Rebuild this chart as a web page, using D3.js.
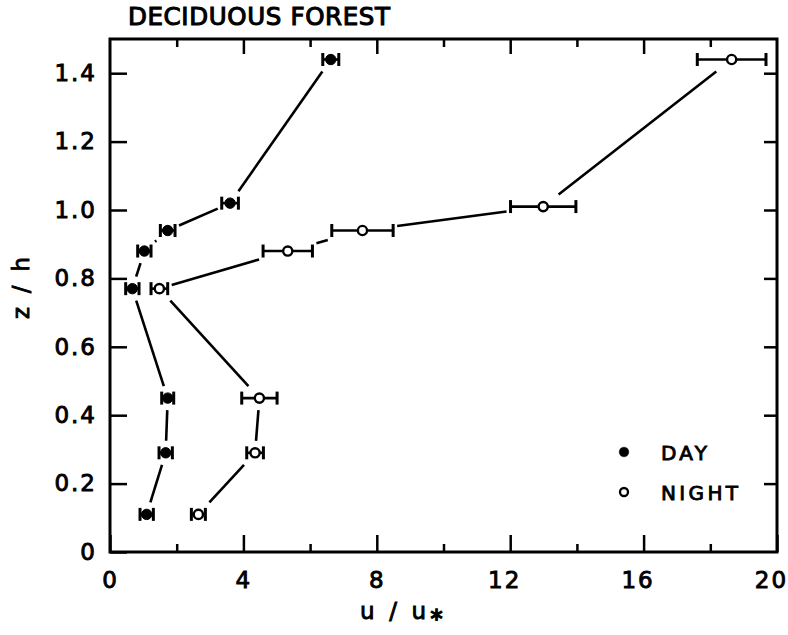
<!DOCTYPE html>
<html>
<head>
<meta charset="utf-8">
<script src="https://cdn.jsdelivr.net/npm/d3@7"></script>
<style>
  html, body { margin: 0; padding: 0; background: #fff; }
  svg text { font-family: "DejaVu Sans", "Liberation Sans", sans-serif; fill: #000; }
</style>
</head>
<body>
<svg id="chart" width="788" height="635"></svg>
<script>
// Normalised wind speed profiles in a deciduous forest canopy
const zDay     = [0.11, 0.29, 0.45, 0.77, 0.88, 0.94, 1.02, 1.44];
const uDay     = [1.10, 1.67, 1.73, 0.67, 1.03, 1.73, 3.60, 6.62];
const errDay   = [0.20, 0.20, 0.18, 0.20, 0.20, 0.22, 0.25, 0.24];

const zNight   = [0.11, 0.29, 0.45, 0.77, 0.88, 0.94, 1.01, 1.44];
const uNight   = [2.65, 4.35, 4.48, 1.48, 5.33, 7.57, 12.99, 18.64];
const errNight = [0.21, 0.25, 0.53, 0.25, 0.74, 0.92, 0.98, 1.03];

const xMajorTicks = [0, 4, 8, 12, 16, 20];
const xMinorTicks = [2, 6, 10, 14, 18];
const yTicks      = [0, 0.2, 0.4, 0.6, 0.8, 1.0, 1.2, 1.4];
const yTickLabels = ["0", "0.2", "0.4", "0.6", "0.8", "1.0", "1.2", "1.4"];

const svg = d3.select("#chart");
const plotLeft = 110, plotRight = 777, plotTop = 39, plotBottom = 552;

const x = d3.scaleLinear().domain([0, 20]).range([plotLeft, plotRight]);
const y = d3.scaleLinear().domain([0, 1.5]).range([plotBottom, plotTop]);

const ink = "#000";

// Axes: ticks point inward, labels outside
function styleAxis(g) {
  g.select(".domain").remove();
  g.selectAll(".tick line").attr("stroke", ink).attr("stroke-width", 2.5);
  g.selectAll(".tick text")
    .attr("font-size", 23)
    .attr("stroke", ink).attr("stroke-width", 0.9);
}

svg.append("g").attr("transform", `translate(0,${plotBottom})`)
  .call(d3.axisBottom(x).tickValues(xMajorTicks).tickSize(-17).tickPadding(20)
        .tickFormat(d3.format("d")))
  .call(styleAxis)
  .call(g => g.selectAll(".tick text")
    .attr("letter-spacing", 2)
    .attr("dx", d => d >= 10 ? -6 : 0));
svg.append("g").attr("transform", `translate(0,${plotBottom})`)
  .call(d3.axisBottom(x).tickValues(xMinorTicks).tickSize(-8).tickFormat(""))
  .call(styleAxis);
svg.append("g").attr("transform", `translate(0,${plotTop})`)
  .call(d3.axisTop(x).tickValues(xMajorTicks.slice(1, -1)).tickSize(-15).tickFormat(""))
  .call(styleAxis);
svg.append("g").attr("transform", `translate(0,${plotTop})`)
  .call(d3.axisTop(x).tickValues(xMinorTicks).tickSize(-8).tickFormat(""))
  .call(styleAxis);
svg.append("g").attr("transform", `translate(${plotLeft},0)`)
  .call(d3.axisLeft(y).tickValues(yTicks).tickSize(-17).tickPadding(13)
        .tickFormat((d, i) => yTickLabels[i]))
  .call(styleAxis)
  .call(g => g.selectAll(".tick text").attr("letter-spacing", 2));
svg.append("g").attr("transform", `translate(${plotRight},0)`)
  .call(d3.axisRight(y).tickValues(yTicks.slice(1)).tickSize(-13).tickFormat(""))
  .call(styleAxis);

// Plot frame
svg.append("rect")
  .attr("x", plotLeft).attr("y", plotTop)
  .attr("width", plotRight - plotLeft).attr("height", plotBottom - plotTop)
  .attr("fill", "none").attr("stroke", ink).attr("stroke-width", 3);

// Titles
svg.append("text").attr("x", 128).attr("y", 25)
  .attr("font-size", 24.5).attr("textLength", 262).attr("lengthAdjust", "spacing")
  .attr("stroke", ink).attr("stroke-width", 1.1)
  .text("DECIDUOUS FOREST");

const xTitle = svg.append("text").attr("x", 360).attr("y", 619)
  .attr("font-size", 23).attr("stroke", ink).attr("stroke-width", 0.9);
xTitle.append("tspan").attr("textLength", 66).attr("lengthAdjust", "spacing").text("u / u");
xTitle.append("tspan").attr("dx", 1).attr("dy", 8).attr("font-size", 24)
  .attr("stroke-width", 1.4).text("*");

svg.append("text")
  .attr("transform", "translate(29,288) rotate(-90)")
  .attr("text-anchor", "middle").attr("font-size", 23)
  .attr("textLength", 62).attr("lengthAdjust", "spacing")
  .attr("stroke", ink).attr("stroke-width", 0.9)
  .text("z / h");

// Connecting segments stop short of each marker and its error bar
function drawProfile(us, zs, errs, filled) {
  const pts = us.map((u, i) => ({ px: x(u), py: y(zs[i]), e: x(errs[i]) - x(0) }));
  const segs = [];
  for (let i = 0; i < pts.length - 1; i++) {
    const a = pts[i], b = pts[i + 1];
    const dx = b.px - a.px, dy = b.py - a.py;
    const exit = p => {
      const tx = Math.abs(dx) > 1e-6 ? (p.e + 4) / Math.abs(dx) : Infinity;
      const ty = Math.abs(dy) > 1e-6 ? 12 / Math.abs(dy) : Infinity;
      return Math.min(tx, ty);
    };
    const t0 = exit(a), t1 = 1 - exit(b);
    if (t1 > t0) segs.push([a.px + dx * t0, a.py + dy * t0, a.px + dx * t1, a.py + dy * t1]);
  }
  const g = svg.append("g");
  g.selectAll("line.seg").data(segs).join("line").attr("class", "seg")
    .attr("x1", d => d[0]).attr("y1", d => d[1]).attr("x2", d => d[2]).attr("y2", d => d[3])
    .attr("stroke", ink).attr("stroke-width", 2.6);

  const eb = g.selectAll("g.eb").data(pts).join("g").attr("class", "eb");
  eb.append("line")
    .attr("x1", d => d.px - d.e).attr("x2", d => d.px + d.e)
    .attr("y1", d => d.py).attr("y2", d => d.py)
    .attr("stroke", ink).attr("stroke-width", 2.6);
  eb.append("line")
    .attr("x1", d => d.px - d.e).attr("x2", d => d.px - d.e)
    .attr("y1", d => d.py - 6.5).attr("y2", d => d.py + 6.5)
    .attr("stroke", ink).attr("stroke-width", 3);
  eb.append("line")
    .attr("x1", d => d.px + d.e).attr("x2", d => d.px + d.e)
    .attr("y1", d => d.py - 6.5).attr("y2", d => d.py + 6.5)
    .attr("stroke", ink).attr("stroke-width", 3);
  eb.append("circle")
    .attr("cx", d => d.px).attr("cy", d => d.py)
    .attr("r", filled ? 5.2 : 4.6)
    .attr("fill", filled ? ink : "#fff")
    .attr("stroke", ink).attr("stroke-width", filled ? 1 : 2.4);
}

drawProfile(uDay, zDay, errDay, true);
drawProfile(uNight, zNight, errNight, false);

// Legend
const legend = [
  { label: "DAY", filled: true, cy: 452, w: 46 },
  { label: "NIGHT", filled: false, cy: 492, w: 77 }
];
const lg = svg.append("g").selectAll("g").data(legend).join("g");
lg.append("circle").attr("cx", 624).attr("cy", d => d.cy)
  .attr("r", d => d.filled ? 4.8 : 4)
  .attr("fill", d => d.filled ? ink : "#fff")
  .attr("stroke", ink).attr("stroke-width", d => d.filled ? 0.5 : 2.3);
lg.append("text").attr("x", 661).attr("y", d => d.cy + 7.5)
  .attr("font-size", 20).attr("textLength", d => d.w).attr("lengthAdjust", "spacing")
  .attr("stroke", ink).attr("stroke-width", 0.9)
  .text(d => d.label);
</script>
</body>
</html>
